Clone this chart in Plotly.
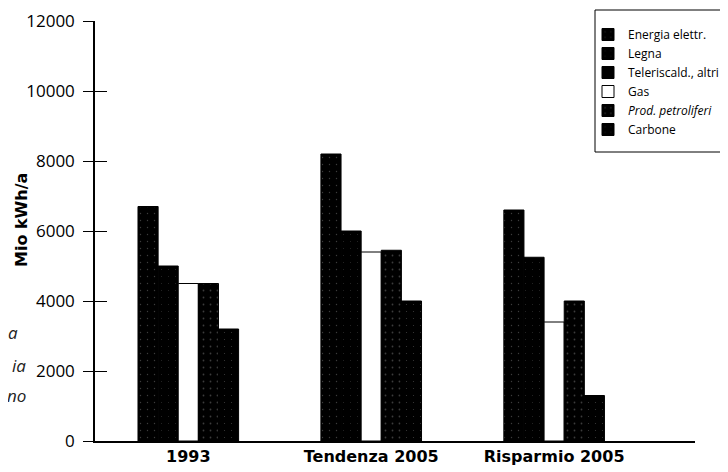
import plotly.graph_objects as go

categories = ["1993", "Tendenza 2005", "Risparmio 2005"]
series_names = ["Energia elettr.", "Legna", "Teleriscald., altri", "Gas", "<i>Prod. petroliferi</i>", "Carbone"]
energia = [6700, 8200, 6600]
legna = [5000, 6000, 5250]
teleriscald = [None, None, None]
gas = [4500, 5400, 3400]
petroliferi = [4500, 5450, 4000]
carbone = [3200, 4000, 1300]
y_ticks = [0, 2000, 4000, 6000, 8000, 10000, 12000]
y_tick_labels = ["0", "2000", "4000", "6000", "8000", "10000", "12000"]
side_text = ["a", "ia", "no"]

values = [energia, legna, teleriscald, gas, petroliferi, carbone]
fills = ["black", "black", "black", "white", "black", "black"]
dots = [0.03, 0.015, 0, 0, 0.05, 0.02]
groups = ["a", "b", "b", "c", "d", "e"]

fig = go.Figure()
for name, vals, fill, d, g in zip(series_names, values, fills, dots, groups):
    pattern = dict(shape=".", fgcolor="#777777", bgcolor=fill, size=7, solidity=d) if d > 0 else dict(shape="")
    fig.add_trace(go.Bar(
        x=categories, y=vals, name=name, offsetgroup=g,
        marker=dict(color=fill, line=dict(color="black", width=1), pattern=pattern),
    ))

fig.add_trace(go.Scatter(x=[categories[0]], y=[None], yaxis="y2", showlegend=False, hoverinfo="skip"))

# the page body adds an 8px offset; targets below are in page pixels
OFF = 8
PLOT_L, PLOT_R, PLOT_T, PLOT_B = 95, 695, 21, 441
L = PLOT_L - OFF
T = PLOT_T - OFF
R = 728 - (PLOT_R - OFF)
B = 472 - (PLOT_B - OFF)
PW, PH = PLOT_R - PLOT_L, PLOT_B - PLOT_T


def px(xp):
    return (xp - PLOT_L) / PW


def py(yp):
    return (PLOT_B - yp) / PH


fig.update_layout(
    width=728, height=472,
    margin=dict(l=L, r=R, t=T, b=B, autoexpand=False),
    paper_bgcolor="white", plot_bgcolor="white",
    barmode="group", bargap=0.45, bargroupgap=0,
    font=dict(family="Open Sans, Lato, sans-serif", color="black"),
    xaxis=dict(type="category", range=[-0.51, 2.77], showline=True, linecolor="black", linewidth=1.5,
               ticks="", tickfont=dict(size=16, family="DejaVu Sans", weight="bold"), showgrid=False,
               zeroline=False),
    yaxis=dict(range=[0, 12000], tickvals=y_ticks, ticktext=y_tick_labels, showline=True,
               linecolor="black", linewidth=1.5, ticks="outside", ticklen=10, tickwidth=1.2,
               tickcolor="black", showgrid=False, zeroline=False, tickfont=dict(size=17),
               ticklabelstandoff=5),
    yaxis2=dict(range=[0, 12000], overlaying="y", tickvals=y_ticks, ticks="inside", ticklen=12,
                tickwidth=1.2, tickcolor="black", showticklabels=False, showgrid=False, zeroline=False,
                showline=False),
    legend=dict(x=px(588), y=py(20), xanchor="left", yanchor="top",
                bgcolor="rgba(0,0,0,0)", borderwidth=0, font=dict(size=12), tracegroupgap=0),
    showlegend=True,
    shapes=[dict(type="rect", xref="paper", yref="paper",
                 x0=px(595), x1=px(725), y0=py(152), y1=py(10),
                 line=dict(color="black", width=1))],
    annotations=[
        dict(text="<b>Mio kWh/a</b>", xref="paper", yref="paper", x=px(21), y=py(220),
             textangle=-90, showarrow=False, font=dict(size=16, family="DejaVu Sans"),
             xanchor="center", yanchor="middle"),
    ] + [
        dict(text=f"<i>{t}</i>", xref="paper", yref="paper", x=px(xr), y=py(yc),
             showarrow=False, xanchor="right", yanchor="middle", font=dict(size=17, color="#222"))
        for t, xr, yc in zip(side_text, [20, 28, 28], [332, 365, 395])
    ],
)

fig.write_html("out.html")
